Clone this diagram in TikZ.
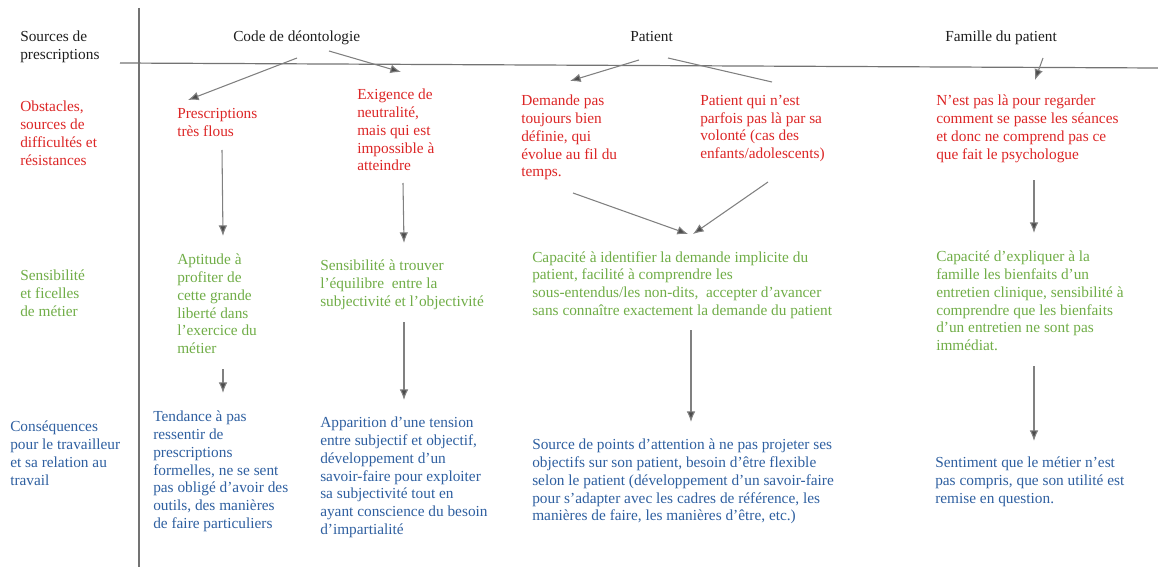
\documentclass[tikz,border=0pt]{standalone}
\usepackage{fontspec}
\setmainfont{Liberation Serif}
\usetikzlibrary{calc, arrows.meta}
\definecolor{rouge}{RGB}{220,38,38}
\definecolor{vert}{RGB}{112,173,71}
\definecolor{bleu}{RGB}{46,95,160}
\definecolor{noir}{RGB}{30,30,30}
\begin{document}
\begin{tikzpicture}[x=0.75pt,y=-0.75pt,
        txt/.style={anchor=north west, inner sep=0pt, align=left,
            font=\fontsize{11.5}{13.3}\selectfont},
        entete/.style={txt, text=noir},
        obst/.style={txt, text=rouge},
        ficelle/.style={txt, text=vert},
        conseq/.style={txt, text=bleu},
        trait/.style={line width=0.8pt, black!50},
        fleche/.style={trait, -{Latex[length=8pt,width=6.5pt,fill=black!70]}}]
        \useasboundingbox (0,0) rectangle (1158,567);
        % cadre
        \draw[line width=0.9pt, black!55] (139,8) -- (139,567);
        \draw[line width=0.9pt, black!55] (120,63) -- (1158,68);
        % sources de prescriptions
        \node[entete] (src) at (20,31) {Sources de\\prescriptions};
        \foreach \nom/\x/\titre in {code/233/Code de déontologie, patient/630/Patient, famille/945/Famille du patient} {
            \node[entete] (\nom) at (\x,31) {\titre};
        }
        % obstacles
        \node[obst] (obst) at (20,101) {Obstacles,\\sources de\\difficultés et\\résistances};
        \node[obst] (presc) at (177,108) {Prescriptions\\très flous};
        \node[obst] (exig) at (357,89) {Exigence de\\neutralité,\\mais qui est\\impossible à\\atteindre};
        \node[obst] (demande) at (521,95) {Demande pas\\toujours bien\\définie, qui\\évolue au fil du\\temps.};
        \node[obst] (volonte) at (700,95) {Patient qui n’est\\parfois pas là par sa\\volonté (cas des\\enfants/adolescents)};
        \node[obst] (npl) at (936,95) {N’est pas là pour regarder\\comment se passe les séances\\et donc ne comprend pas ce\\que fait le psychologue};
        % sensibilite et ficelles
        \node[ficelle] (sens) at (20,270) {Sensibilité\\et ficelles\\de métier};
        \node[ficelle] (apt) at (177,254) {Aptitude à\\profiter de\\cette grande\\liberté dans\\l’exercice du\\métier};
        \node[ficelle] (equil) at (320,260) {Sensibilité à trouver\\l’équilibre\ \ entre la\\subjectivité et l’objectivité};
        \node[ficelle] (capid) at (532,251) {Capacité à identifier la demande implicite du\\patient, facilité à comprendre les\\sous-entendus/les non-dits,\ \ accepter d’avancer\\sans connaître exactement la demande du patient};
        \node[ficelle] (capexp) at (936,251) {Capacité d’expliquer à la\\famille les bienfaits d’un\\entretien clinique, sensibilité à\\comprendre que les bienfaits\\d’un entretien ne sont pas\\immédiat.};
        % consequences
        \node[conseq] (cons) at (10,421) {Conséquences\\pour le travailleur\\et sa relation au\\travail};
        \node[conseq] (tend) at (153,411) {Tendance à pas\\ressentir de\\prescriptions\\formelles, ne se sent\\pas obligé d’avoir des\\outils, des manières\\de faire particuliers};
        \node[conseq] (appar) at (320,417) {Apparition d’une tension\\entre subjectif et objectif,\\développement d’un\\savoir-faire pour exploiter\\sa subjectivité tout en\\ayant conscience du besoin\\d’impartialité};
        \node[conseq] (source) at (532,439) {Source de points d’attention à ne pas projeter ses\\objectifs sur son patient, besoin d’être flexible\\selon le patient (développement d’un savoir-faire\\pour s’adapter avec les cadres de référence, les\\manières de faire, les manières d’être, etc.)};
        \node[conseq] (sentim) at (935,457) {Sentiment que le métier n’est\\pas compris, que son utilité est\\remise en question.};
        % fleches
        \draw[fleche] ($(code.north west)+(64,27)$) -- ($(presc.north west)+(11,-8)$);
        \draw[fleche] ($(code.north west)+(96,20)$) -- ($(exig.north west)+(44,-17)$);
        \draw[fleche] ($(patient.north west)+(9,29)$) -- ($(demande.north west)+(49,-14)$);
        \draw[trait] ($(patient.north west)+(38,27)$) -- ($(volonte.north west)+(72,-13)$);
        \draw[fleche] ($(famille.north west)+(98,27)$) -- ($(npl.north west)+(99,-15)$);
        \draw[fleche] ($(presc.north west)+(45,42)$) -- ($(apt.north west)+(46,-18)$);
        \draw[fleche] ($(exig.north west)+(46,94)$) -- ($(equil.north west)+(84,-17)$);
        \draw[fleche] ($(demande.north west)+(52,98)$) -- ($(capid.north west)+(156,-17)$);
        \draw[fleche] ($(volonte.north west)+(68,87)$) -- ($(capid.north west)+(161,-17)$);
        \draw[fleche] ($(apt.north west)+(46,115)$) -- ($(tend.north west)+(70,-18)$);
        \draw[fleche] ($(equil.north west)+(84,62)$) -- ($(appar.north west)+(84,-17)$);
        \draw[fleche] ($(capid.north west)+(159,79)$) -- ($(source.north west)+(159,-17)$);
        \draw[fleche] ($(npl.north west)+(98,85)$) -- ($(capexp.north west)+(98,-18)$);
        \draw[fleche] ($(capexp.north west)+(98,115)$) -- ($(sentim.north west)+(99,-16)$);
    \end{tikzpicture}
\end{document}
